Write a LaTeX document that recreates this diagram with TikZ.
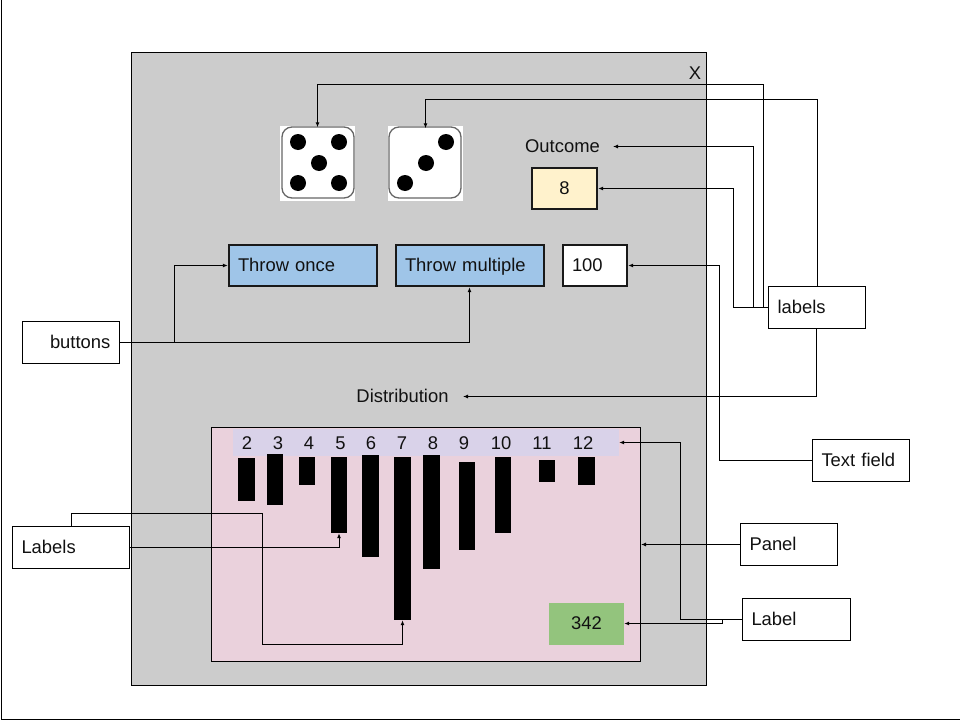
\documentclass[tikz,border=0pt]{standalone}
\usepackage{fontspec}
\setmainfont{Liberation Sans}
\usetikzlibrary{arrows.meta}

\definecolor{framegrey}{HTML}{CCCCCC}
\definecolor{panelpink}{HTML}{EAD1DC}
\definecolor{bandlilac}{HTML}{D9D2E9}
\definecolor{btnblue}{HTML}{9FC5E8}
\definecolor{outyellow}{HTML}{FFF2CC}
\definecolor{countgreen}{HTML}{93C47D}
\definecolor{inkdark}{HTML}{111111}

\tikzset{
    every node/.style={font=\fontsize{18.4}{22}\selectfont, text=inkdark, inner sep=0pt},
    callout/.style={draw=black, fill=white, line width=1pt, minimum height=42pt,
        inner xsep=9pt, text width=#1pt-18pt, align=left, text height=11.5pt, text depth=0pt},
    widget/.style={draw=black!90, line width=2.3pt, minimum height=41pt,
        inner xsep=9pt, text width=#1pt-18pt, align=left, text height=11.5pt, text depth=0pt},
    conn/.style={line width=1pt, draw=black, -{Latex[length=5pt,width=4pt]}},
    diebg/.style={fill=white, minimum width=75pt, minimum height=75pt},
    dieface/.style={draw=black!60, line width=1.3pt, fill=white, rounded corners=10pt,
        minimum width=72pt, minimum height=71pt},
    pip/.style={circle, fill=black, minimum size=16pt},
    valbar/.style={fill=black, minimum width=#1pt},
}

\begin{document}
\begin{tikzpicture}[x=1pt, y=-1pt]
    \useasboundingbox (0,0) rectangle (960,720);

    % Page frame
    \draw[line width=1pt] (1.5,0) -- (1.5,719) -- (960,719);

    % Window and panel
    \node[draw=black, fill=framegrey, line width=1pt, minimum width=575pt, minimum height=633pt] (window) at (419,369) {};
    \node (closex) at (695,73) {X};
    \node[draw=black, fill=panelpink, line width=1pt, minimum width=429pt, minimum height=234pt] (panel) at (426,544.5) {};
    \node[fill=bandlilac, minimum width=386pt, minimum height=27pt] (band) at (426,442.5) {};

    % Dice
    \node[diebg] (die1) at (317.5,163) {};
    \node[dieface] at (318,162.5) {};
    \foreach \x/\y in {298/142,339/142,319/163,298/183,339/183} {
        \node[pip] at (\x,\y) {};
    }
    \node[diebg] (die2) at (425.5,163) {};
    \node[dieface] at (425,162.5) {};
    \foreach \x/\y in {446/142,426/163,405/183} {
        \node[pip] at (\x,\y) {};
    }

    % Outcome and controls
    \node (outcome) at (562.5,146) {Outcome};
    \node[draw=black!90, fill=outyellow, line width=2.3pt, minimum width=65pt, minimum height=41pt] (result) at (564.5,188.5) {8};
    \node[widget=148, fill=btnblue] (throwonce) at (303,265.5) {Throw once};
    \node[widget=148, fill=btnblue] (throwmulti) at (470,265.5) {Throw multiple};
    \node[widget=64, fill=white] (amount) at (595,265.5) {100};
    \node (distribution) at (402.5,396) {Distribution};

    % Numbers and bars of the distribution
    \foreach \v/\x in {2/247,3/278,4/309,5/340.5,6/371,7/402,8/433,9/464,10/501,11/542,12/583} {
        \node (num\v) at (\x,443) {\v};
    }
    \foreach \v/\x/\w/\t/\b in {2/246.5/17/458/501,3/275/16/454/505,4/307/16/457/485,5/339/16/457/533,
        6/370.5/17/455/557,7/402.5/17/457/620,8/431.5/17/455/569,9/467/16/462/550,
        10/503/16/457/533,11/547/16/460/482,12/586.5/17/457/485} {
        \node[valbar=\w, minimum height=\b pt-\t pt] (bar\v) at (\x,{(\t+\b)/2}) {};
    }
    \node[fill=countgreen, minimum width=75pt, minimum height=42pt] (count) at (586.5,623.5) {342};

    % Callouts
    \node[callout=97] (buttons) at (71,342.5) {\mbox{\hspace*{18.5pt}buttons}};
    \node[callout=97] (labelsright) at (817,307.5) {labels};
    \node[callout=97] (textfield) at (861,460.5) {Text field};
    \node[callout=97] (panelnote) at (789,544.5) {Panel};
    \node[callout=108] (labelnote) at (796.5,619.5) {Label};
    \node[callout=117] (labelsleft) at (71,547.5) {Labels};

    % Free bends of the connectors
    \coordinate (bendA) at (763.5,84.5);
    \coordinate (bendB) at (817.5,99.5);
    \coordinate (bendC) at (753.5,146.5);
    \coordinate (bendD) at (733.5,188.5);
    \coordinate (bendE) at (719.5,265.5);
    \coordinate (bendF) at (680.5,442.5);
    \coordinate (bendG) at (722.5,619.5);
    \coordinate (bendH) at (71.5,513.5);
    \coordinate (bendI) at (262.5,644.5);
    \coordinate (bendJ) at (174.5,342.5);
    \coordinate (outcomeEnd) at (613,146.5);
    \coordinate (distEnd) at (463,396.5);
    \coordinate (panelEnd) at (641,544.5);

    % Connectors
    \draw[conn] (labelsright.west) -| (bendA) -| ([yshift=-2pt]die1.north);
    \draw[conn] ([xshift=0.5pt]labelsright.north) |- (bendB) -| ([yshift=-3pt]die2.north);
    \draw[conn] (labelsright.west) -| (bendC) -- (outcomeEnd);
    \draw[conn] (labelsright.west) -| (bendD) -- (result.east);
    \draw[conn] ([xshift=-0.5pt]labelsright.south) |- (distEnd);
    \draw[conn] (textfield.west) -| (bendE) -- (amount.east);
    \draw[conn] (buttons.east) -- (bendJ) |- (throwonce.west);
    \draw[conn] (buttons.east) -| ([xshift=-0.5pt]throwmulti.south);
    \draw[conn] (panelnote.west) -- (panelEnd);
    \draw[conn] (labelnote.west) -| (bendF) -- (band.east);
    \draw[conn] (labelnote.west) -- (bendG) |- (count.east);
    \draw[conn] (labelsleft.east) -| (bar5.south);
    \draw[conn] ([xshift=0.5pt]labelsleft.north) |- (bendH) -| (bendI) -| (bar7.south);

\end{tikzpicture}
\end{document}
